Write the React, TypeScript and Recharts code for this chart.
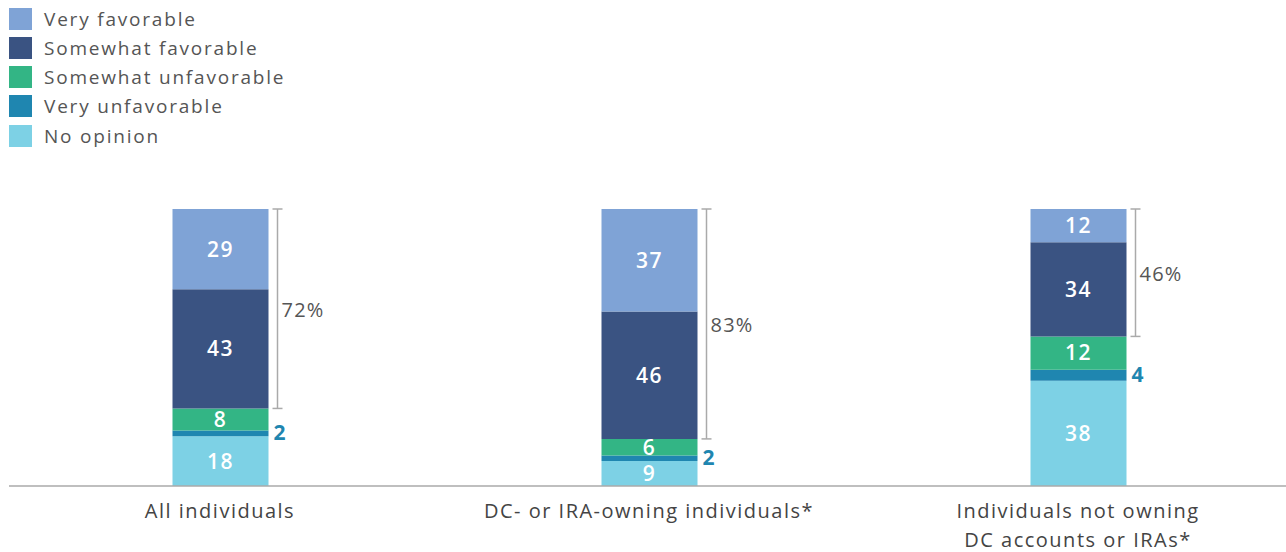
import React from "react";
import { Bar, BarChart, LabelList, XAxis, YAxis } from "recharts";

const categories = ["All individuals", "DC- or IRA-owning individuals*", "Individuals not owning\nDC accounts or IRAs*"];
const noOpinion = [18, 9, 38];
const veryUnfavorable = [2, 2, 4];
const somewhatUnfavorable = [8, 6, 12];
const somewhatFavorable = [43, 46, 34];
const veryFavorable = [29, 37, 12];

const SERIES = [
  { key: "noOpinion", name: "No opinion", color: "#7dd1e5" },
  { key: "veryUnfavorable", name: "Very unfavorable", color: "#1f86b0" },
  { key: "somewhatUnfavorable", name: "Somewhat unfavorable", color: "#33b585" },
  { key: "somewhatFavorable", name: "Somewhat favorable", color: "#3a5382" },
  { key: "veryFavorable", name: "Very favorable", color: "#7fa3d6" },
];

const data = categories.map((name, i) => ({
  name,
  noOpinion: noOpinion[i],
  veryUnfavorable: veryUnfavorable[i],
  somewhatUnfavorable: somewhatUnfavorable[i],
  somewhatFavorable: somewhatFavorable[i],
  veryFavorable: veryFavorable[i],
}));

const FONT = "'Open Sans', sans-serif";
const GRAY = "#aaaaaa";

function CategoryTick({ x, y, payload }: any) {
  const lines = String(payload.value).split("\n");
  return (
    <text x={x} y={y} textAnchor="middle" fill="#444" fontSize={20} fontFamily={FONT} letterSpacing={1.5}>
      {lines.map((line, i) => (
        <tspan key={i} x={x} dy={i === 0 ? 24 : 29}>
          {line}
        </tspan>
      ))}
    </text>
  );
}

function SideLabel({ x, y, width, height, value }: any) {
  return (
    <text
      x={x + width + 5}
      y={y + height / 2 - 1}
      dominantBaseline="central"
      fill="#1f86b0"
      fontSize={21}
      fontWeight={700}
      fontFamily={FONT}
    >
      {value}
    </text>
  );
}

// bracket spans very + somewhat favorable; its bottom comes from the same px-per-unit as this segment
function FavorableBracket({ x, y, width, height, value, index }: any) {
  const total = value + somewhatFavorable[index];
  const bottom = y + (height * total) / value;
  const bx = x + width + 9;
  return (
    <g>
      <line x1={bx} x2={bx} y1={y} y2={bottom} stroke={GRAY} strokeWidth={1.5} />
      <line x1={bx - 5} x2={bx + 5} y1={y} y2={y} stroke={GRAY} strokeWidth={1.5} />
      <line x1={bx - 5} x2={bx + 5} y1={bottom} y2={bottom} stroke={GRAY} strokeWidth={1.5} />
      <text
        x={bx + 4}
        y={(y + bottom) / 2 + 1}
        dominantBaseline="central"
        fill="#555"
        fontSize={20}
        fontFamily={FONT}
        letterSpacing={1.2}
      >
        {total}%
      </text>
    </g>
  );
}

function LegendBox() {
  const items = [...SERIES].reverse();
  return (
    <div style={{ position: "absolute", left: 0, top: 4, fontFamily: FONT, fontSize: 19, color: "#555" }}>
      {items.map((s) => (
        <div key={s.key} style={{ display: "flex", alignItems: "center", height: 29.25 }}>
          <span style={{ width: 23, height: 22, background: s.color, display: "inline-block", marginLeft: 9 }} />
          <span style={{ marginLeft: 12, letterSpacing: 1.8 }}>{s.name}</span>
        </div>
      ))}
    </div>
  );
}

export default function App() {
  return (
    <div style={{ position: "absolute", left: 0, top: 0, width: 1286, height: 552, background: "#fff" }}>
      <BarChart width={1286} height={552} data={data} margin={{ top: 209, right: 0, bottom: 36, left: 9 }}>
        <XAxis
          dataKey="name"
          height={30}
          axisLine={{ stroke: GRAY, strokeWidth: 1.5 }}
          tickLine={false}
          tick={<CategoryTick />}
          interval={0}
          padding={{ left: -3.5, right: -6.5 }}
        />
        <YAxis hide domain={[0, 100]} />
        {SERIES.map((s) => (
          <Bar key={s.key} dataKey={s.key} name={s.name} stackId="a" fill={s.color} barSize={96} isAnimationActive={false}>
            {s.key === "veryUnfavorable" ? (
              <LabelList dataKey={s.key} content={<SideLabel />} />
            ) : (
              <LabelList
                dataKey={s.key}
                position="center"
                fill="#fff"
                fontSize={21}
                fontWeight={600}
                fontFamily={FONT}
                letterSpacing={1.5}
              />
            )}
            {s.key === "veryFavorable" && <LabelList dataKey={s.key} content={<FavorableBracket />} />}
          </Bar>
        ))}
      </BarChart>
      <LegendBox />
    </div>
  );
}
